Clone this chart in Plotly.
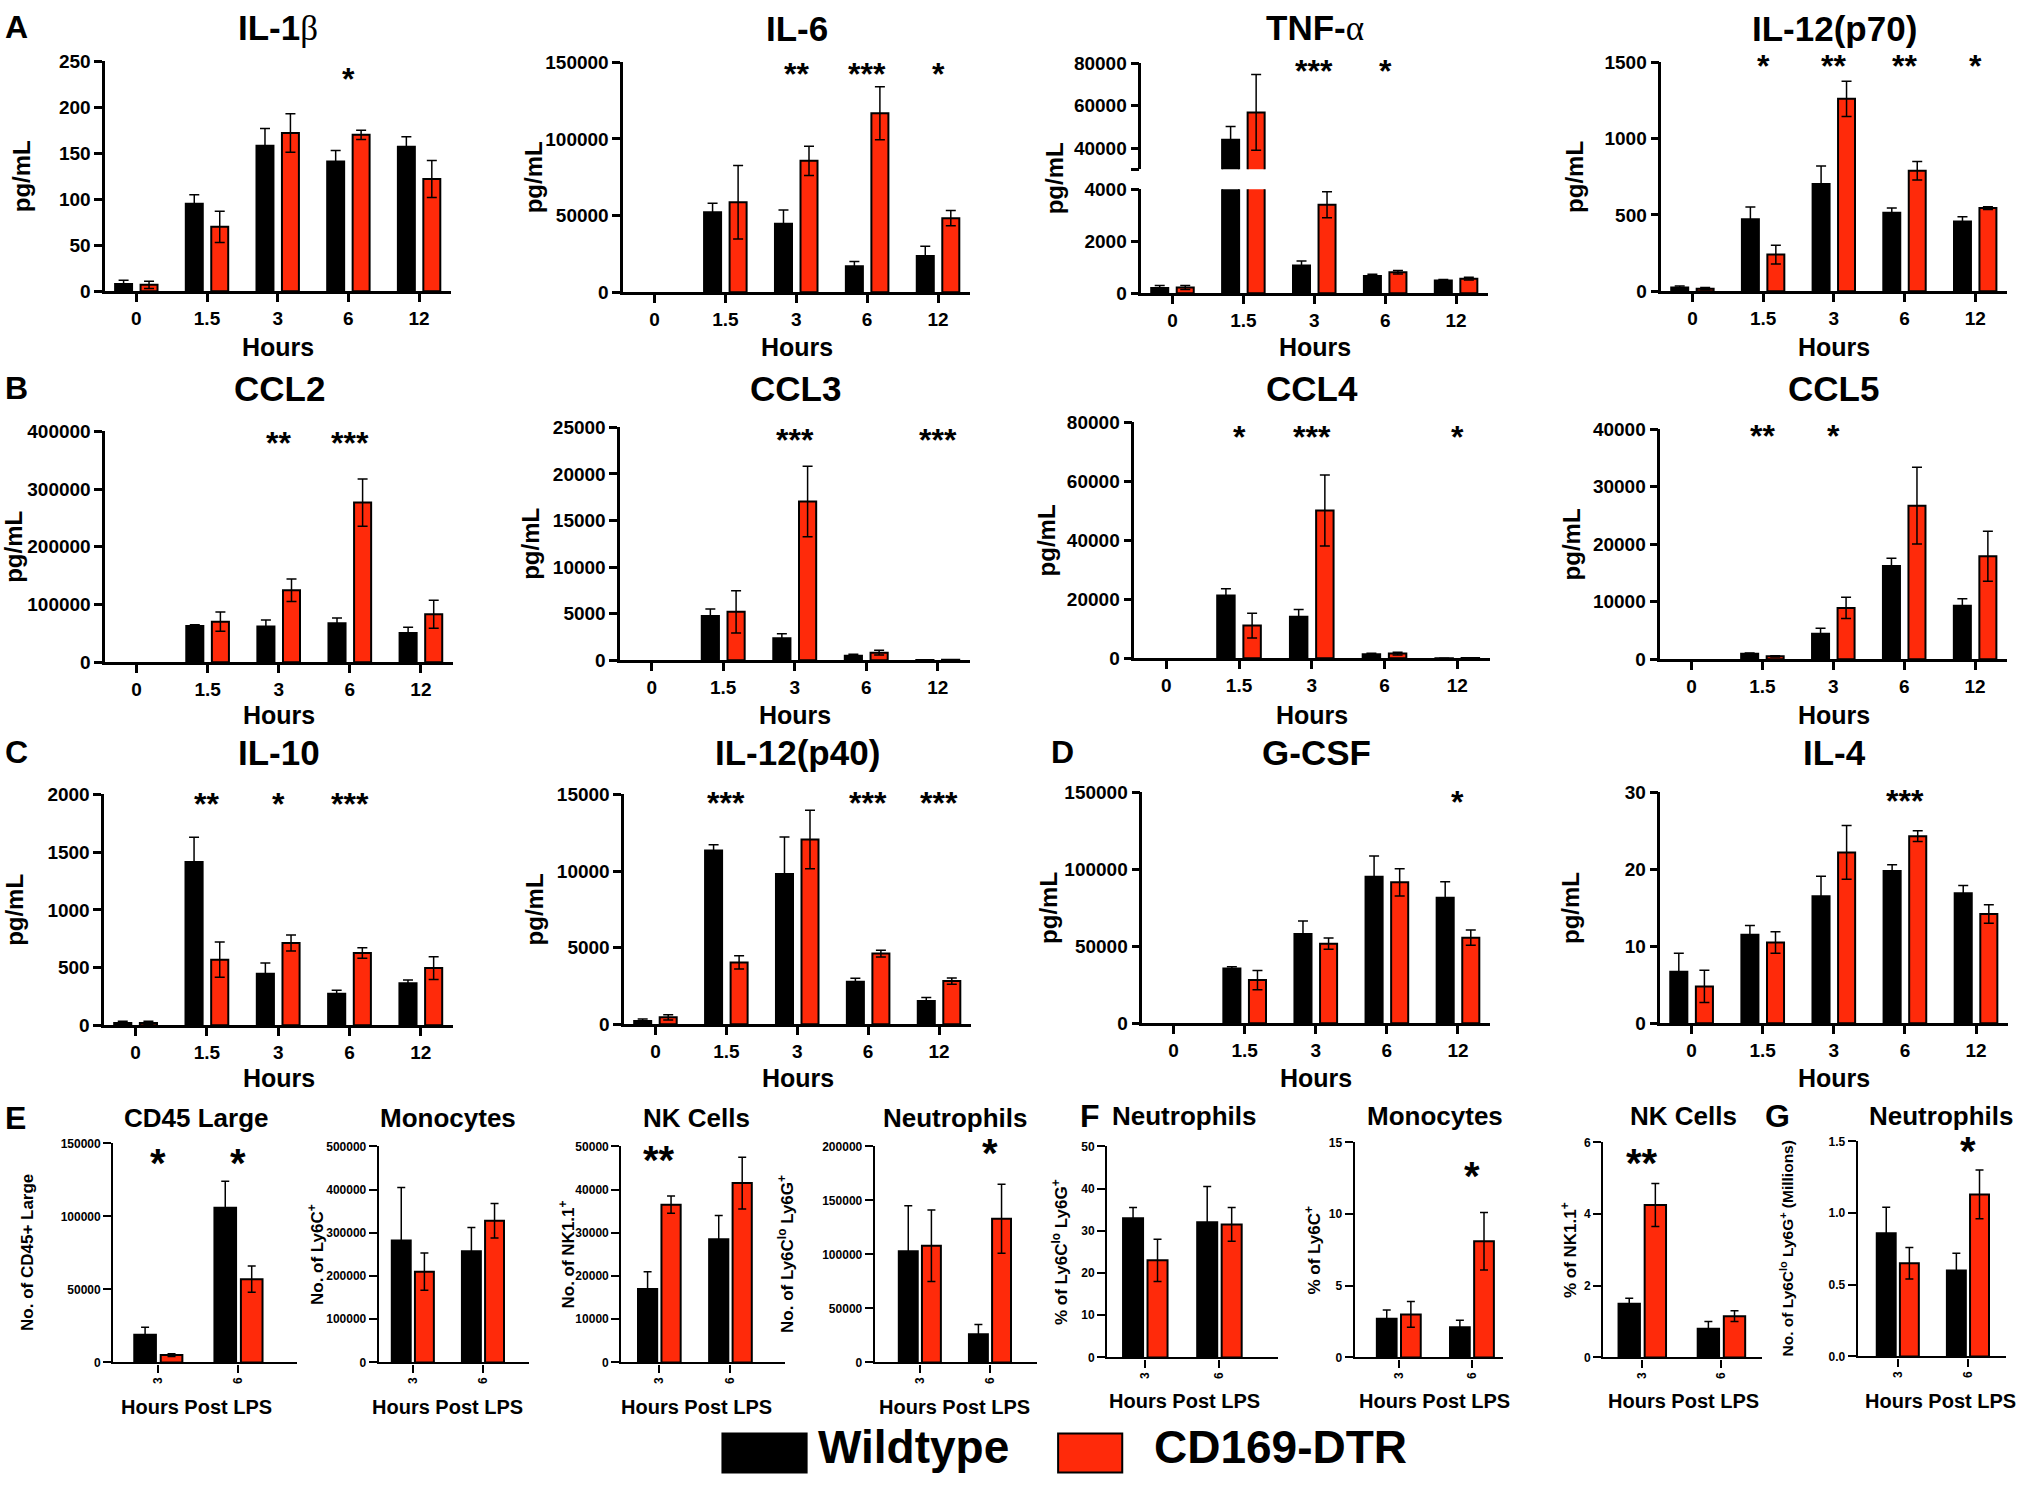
import plotly.graph_objects as go

W, H = 2019, 1485
FONT = "Liberation Sans"
RED = "#FF2A0A"

# ---------------- data ----------------
hours = ["0", "1.5", "3", "6", "12"]
lps_hours = ["3", "6"]

il1b_wt = [8, 95, 158, 141, 157]
il1b_wt_sem = [4, 10, 19, 12, 11]
il1b_dtr = [7, 70, 172, 170, 122]
il1b_dtr_sem = [4, 17, 21, 5, 20]
il1b_stars = ["", "", "", "*", ""]

il6_wt = [0, 52200, 44600, 17000, 23700]
il6_wt_sem = [0, 5800, 9100, 3000, 6300]
il6_dtr = [0, 58700, 85700, 116700, 48300]
il6_dtr_sem = [0, 23900, 9500, 17300, 5000]
il6_stars = ["", "", "**", "***", "*"]

tnf_wt = [200, 43900, 1070, 665, 486]
tnf_wt_sem = [100, 6300, 170, 65, 40]
tnf_dtr = [220, 56800, 3400, 805, 562]
tnf_dtr_sem = [80, 17900, 500, 65, 50]
tnf_stars = ["", "", "***", "*", ""]

p70_wt = [24, 471, 702, 514, 456]
p70_wt_sem = [11, 81, 118, 31, 32]
p70_dtr = [17, 240, 1260, 789, 545]
p70_dtr_sem = [7, 61, 116, 61, 9]
p70_stars = ["", "*", "**", "**", "*"]

ccl2_wt = [0, 62900, 61800, 67500, 50800]
ccl2_wt_sem = [0, 2300, 11500, 9300, 9800]
ccl2_dtr = [0, 70400, 124700, 276500, 83100]
ccl2_dtr_sem = [0, 16800, 19600, 41000, 24300]
ccl2_stars = ["", "", "**", "***", ""]

ccl3_wt = [0, 4750, 2360, 500, 20]
ccl3_wt_sem = [0, 750, 500, 140, 0]
ccl3_dtr = [0, 5200, 17040, 820, 60]
ccl3_dtr_sem = [0, 2260, 3780, 250, 10]
ccl3_stars = ["", "", "***", "", "***"]

ccl4_wt = [0, 21300, 14050, 1360, 50]
ccl4_wt_sem = [0, 2270, 2490, 340, 0]
ccl4_dtr = [0, 11100, 50090, 1590, 80]
ccl4_dtr_sem = [0, 4200, 12000, 450, 0]
ccl4_stars = ["", "*", "***", "", "*"]

ccl5_wt = [0, 985, 4460, 16230, 9330]
ccl5_wt_sem = [0, 115, 930, 1340, 1220]
ccl5_dtr = [0, 520, 8930, 26720, 17910]
ccl5_dtr_sem = [0, 120, 1850, 6670, 4350]
ccl5_stars = ["", "**", "*", "", ""]

il10_wt = [20, 1414, 447, 274, 364]
il10_wt_sem = [15, 214, 93, 29, 28]
il10_dtr = [20, 569, 713, 626, 496]
il10_dtr_sem = [15, 153, 69, 46, 99]
il10_stars = ["", "**", "*", "***", ""]

p40_wt = [217, 11330, 9810, 2780, 1520]
p40_wt_sem = [130, 390, 2410, 220, 240]
p40_dtr = [456, 4040, 12050, 4620, 2820]
p40_dtr_sem = [174, 430, 1910, 220, 200]
p40_stars = ["", "***", "", "***", "***"]

gcsf_wt = [0, 35700, 58000, 95240, 81600]
gcsf_wt_sem = [0, 1100, 8450, 13420, 10390]
gcsf_dtr = [0, 28100, 51730, 91560, 55630]
gcsf_dtr_sem = [0, 6300, 3670, 8870, 4980]
gcsf_stars = ["", "", "", "", "*"]

il4_wt = [6.7, 11.5, 16.5, 19.8, 16.9]
il4_wt_sem = [2.4, 1.2, 2.6, 0.8, 1.0]
il4_dtr = [4.8, 10.5, 22.2, 24.3, 14.2]
il4_dtr_sem = [2.1, 1.4, 3.5, 0.7, 1.2]
il4_stars = ["", "", "", "***", ""]

# flow cytometry panels
cd45_wt = [19000, 106000]
cd45_wt_sem = [5000, 18000]
cd45_dtr = [5000, 57000]
cd45_dtr_sem = [1000, 9000]
cd45_stars = ["*", "*"]

mono_n_wt = [282000, 257000]
mono_n_wt_sem = [123000, 55000]
mono_n_dtr = [210000, 328000]
mono_n_dtr_sem = [43000, 40000]
mono_n_stars = ["", ""]

nk_n_wt = [17000, 28500]
nk_n_wt_sem = [4000, 5500]
nk_n_dtr = [36500, 41500]
nk_n_dtr_sem = [2000, 6000]
nk_n_stars = ["**", ""]

neut_n_wt = [103000, 26000]
neut_n_wt_sem = [42000, 9000]
neut_n_dtr = [108000, 133000]
neut_n_dtr_sem = [33000, 32000]
neut_n_stars = ["", "*"]

neut_p_wt = [33, 32]
neut_p_wt_sem = [2.5, 8.5]
neut_p_dtr = [23, 31.5]
neut_p_dtr_sem = [5, 4]
neut_p_stars = ["", ""]

mono_p_wt = [2.7, 2.1]
mono_p_wt_sem = [0.6, 0.5]
mono_p_dtr = [3.0, 8.1]
mono_p_dtr_sem = [0.9, 2.0]
mono_p_stars = ["", "*"]

nk_p_wt = [1.5, 0.8]
nk_p_wt_sem = [0.15, 0.2]
nk_p_dtr = [4.25, 1.15]
nk_p_dtr_sem = [0.6, 0.15]
nk_p_stars = ["**", ""]

neut_m_wt = [0.86, 0.60]
neut_m_wt_sem = [0.18, 0.12]
neut_m_dtr = [0.65, 1.13]
neut_m_dtr_sem = [0.11, 0.17]
neut_m_stars = ["", "*"]

# y tick values
ticks_250 = [0, 50, 100, 150, 200, 250]
ticks_150k = [0, 50000, 100000, 150000]
ticks_1500 = [0, 500, 1000, 1500]
ticks_400k = [0, 100000, 200000, 300000, 400000]
ticks_25k = [0, 5000, 10000, 15000, 20000, 25000]
ticks_80k = [0, 20000, 40000, 60000, 80000]
ticks_40k = [0, 10000, 20000, 30000, 40000]
ticks_2000 = [0, 500, 1000, 1500, 2000]
ticks_15k = [0, 5000, 10000, 15000]
ticks_30 = [0, 10, 20, 30]
ticks_500k = [0, 100000, 200000, 300000, 400000, 500000]
ticks_50k = [0, 10000, 20000, 30000, 40000, 50000]
ticks_200k = [0, 50000, 100000, 150000, 200000]
ticks_50 = [0, 10, 20, 30, 40, 50]
ticks_15 = [0, 5, 10, 15]
ticks_6 = [0, 2, 4, 6]
ticks_1p5 = [0.0, 0.5, 1.0, 1.5]
tnf_low_ticks = [0, 2000, 4000]
tnf_high_ticks = [30000, 40000, 60000, 80000]
tnf_high_labels = ["", "40000", "60000", "80000"]

# ---------------- helpers ----------------
fig = go.Figure()
annotations = []
shapes = []
counter = [0]

# positions below are given in target-picture pixels; these map them onto the page
X_OFF, X_SCALE = 0.0, 0.998
Y_OFF, Y_SCALE = 9.8, 0.9857


def px(x):
    return ((x - X_OFF) / X_SCALE) / W


def py(y):
    return 1 - ((y - Y_OFF) / Y_SCALE) / H


def new_axes():
    counter[0] += 1
    n = counter[0]
    s = "" if n == 1 else str(n)
    return "x" + s, "y" + s, "xaxis" + s, "yaxis" + s


def bold(size):
    return dict(family=FONT, size=size, color="black", weight="bold")


def add_bars(xa, ya, cats, wt, wt_sem, dtr, dtr_sem, bw, off_wt, off_dtr, cap):
    for vals, sem, col, off in ((wt, wt_sem, "black", off_wt), (dtr, dtr_sem, RED, off_dtr)):
        shown = [v if v else None for v in vals]
        fig.add_trace(go.Bar(
            x=cats, y=shown, xaxis=xa, yaxis=ya, width=bw, offset=off,
            marker=dict(color=col, line=dict(color="black", width=2)),
            error_y=dict(type="data", array=sem, symmetric=True, color="black",
                         thickness=1.5, width=cap),
            showlegend=False, hoverinfo="skip"))


def y_axis_dict(xa, dom, rng, tickvals, ticktext, fs, lw):
    return dict(domain=dom, range=rng, anchor=xa, tickmode="array", tickvals=tickvals,
                ticktext=ticktext, showline=True, linecolor="black", linewidth=lw,
                ticks="outside", ticklen=8, tickwidth=lw, tickcolor="black",
                tickfont=bold(fs), showgrid=False, zeroline=False, fixedrange=True)


def x_axis_dict(ya, dom, rng, cats, fs, lw, angle=0, show=True):
    return dict(domain=dom, range=rng, anchor=ya, type="category",
                categoryorder="array", categoryarray=cats,
                showline=show, linecolor="black", linewidth=lw,
                ticks="outside" if show else "", ticklen=8, tickwidth=lw, tickcolor="black",
                showticklabels=show, tickfont=bold(fs), tickangle=angle,
                showgrid=False, zeroline=False, fixedrange=True)


def text(x, y, s, size, angle=0, xanchor="center", yanchor="middle", xref="paper"):
    annotations.append(dict(x=x, y=y, xref=xref, yref="paper", text=s, showarrow=False,
                            textangle=angle, xanchor=xanchor, yanchor=yanchor,
                            font=dict(family=FONT, size=size, color="black", weight="bold")))


layout = {}


def panel(box, cats, series, yticks, title, ylabel_x, ylabel, xlabel, stars, kind,
          yticklabels=None, star_y=None, title_y=None, xlabel_y=None, broken=None, labfs=None,
          cpos=None, cx=None):
    x0, x1, yt, yb = box
    if kind == "time":
        xr = [-0.44, 4.45]
        bw, ow, od, cap = 0.24, -0.30, 0.06, 5
        tfs, titlefs, lfs, xlfs, starfs, lw, angle = 19, 35, 24, 25, 32, 2.5, 0
        star_shift = 4
        if cx is None:
            cx = (x0 + x1) / 2
    else:
        c3, c6 = cpos
        sp = c6 - c3
        xr = [(x0 - c3) / sp, 1 + (x1 - c6) / sp]
        bw, ow, od, cap = 0.27, -0.30, 0.03, 4
        tfs, titlefs, lfs, xlfs, starfs, lw, angle = 12, 26, 17, 20, 40, 2.2, -90
        star_shift = 8
    if labfs is not None:
        lfs = labfs
    wt, wt_sem, dtr, dtr_sem = series
    xdom = [px(x0), px(x1)]
    if broken is None:
        xa, ya, xk, yk = new_axes()
        add_bars(xa, ya, cats, wt, wt_sem, dtr, dtr_sem, bw, ow, od, cap)
        layout[xk] = x_axis_dict(ya, xdom, xr, cats, tfs, lw, angle)
        lbl = yticklabels if yticklabels is not None else [str(v) for v in yticks]
        layout[yk] = y_axis_dict(xa, [py(yb), py(yt)], [yticks[0], yticks[-1]], yticks, lbl, tfs, lw)
        xref_axis = xa
    else:
        (low_ticks, high_ticks, high_labels, y_break_hi, y_break_lo) = broken
        xa, ya, xk, yk = new_axes()
        add_bars(xa, ya, cats, wt, wt_sem, dtr, dtr_sem, bw, ow, od, cap)
        layout[xk] = x_axis_dict(ya, xdom, xr, cats, tfs, lw, angle)
        layout[yk] = y_axis_dict(xa, [py(yb), py(y_break_lo)], [low_ticks[0], low_ticks[-1]],
                                 low_ticks, [str(v) for v in low_ticks], tfs, lw)
        xref_axis = xa
        xa2, ya2, xk2, yk2 = new_axes()
        add_bars(xa2, ya2, cats, wt, wt_sem, dtr, dtr_sem, bw, ow, od, cap)
        layout[xk2] = x_axis_dict(ya2, xdom, xr, cats, tfs, lw, angle, show=False)
        layout[xk2]["visible"] = False
        layout[yk2] = y_axis_dict(xa2, [py(y_break_hi), py(yt)], [high_ticks[0], high_ticks[-1]],
                                  high_ticks, high_labels, tfs, lw)
    text(px(cx), py(title_y), title, titlefs)
    text(px(ylabel_x), py((yt + yb) / 2), ylabel, lfs, angle=-90)
    text(px(cx), py(xlabel_y), xlabel, xlfs)
    for i, s in enumerate(stars):
        if s:
            text(i, py(star_y + star_shift), s, starfs, xref=xref_axis)


beta = "IL-1<span style=\"font-family:'Liberation Serif';font-weight:normal\">β</span>"
alpha = "TNF-<span style=\"font-family:'Liberation Serif';font-weight:normal\">α</span>"

# ---------------- row 1 ----------------
r1 = dict(title_y=28, xlabel_y=347)
panel((105, 450, 61, 291), hours, (il1b_wt, il1b_wt_sem, il1b_dtr, il1b_dtr_sem), ticks_250,
      beta, 21, "pg/mL", "Hours", il1b_stars, "time", star_y=75, **r1)
panel((622, 968, 62, 292), hours, (il6_wt, il6_wt_sem, il6_dtr, il6_dtr_sem), ticks_150k,
      "IL-6", 532, "pg/mL", "Hours", il6_stars, "time", star_y=70, **r1)
panel((1139, 1485, 63, 293), hours, (tnf_wt, tnf_wt_sem, tnf_dtr, tnf_dtr_sem), None,
      alpha, 1052, "pg/mL", "Hours", tnf_stars, "time", star_y=67,
      broken=(tnf_low_ticks, tnf_high_ticks, tnf_high_labels, 169, 189), **r1)
panel((1658, 2003, 62, 291), hours, (p70_wt, p70_wt_sem, p70_dtr, p70_dtr_sem), ticks_1500,
      "IL-12(p70)", 1572, "pg/mL", "Hours", p70_stars, "time", star_y=62, **r1)

# ---------------- row 2 ----------------
r2 = dict(title_y=388, xlabel_y=715)
panel((105, 452, 431, 662), hours, (ccl2_wt, ccl2_wt_sem, ccl2_dtr, ccl2_dtr_sem), ticks_400k,
      "CCL2", 14, "pg/mL", "Hours", ccl2_stars, "time", star_y=439, **r2)
panel((619, 968, 427, 660), hours, (ccl3_wt, ccl3_wt_sem, ccl3_dtr, ccl3_dtr_sem), ticks_25k,
      "CCL3", 530, "pg/mL", "Hours", ccl3_stars, "time", star_y=436, **r2)
panel((1132, 1487, 422, 658), hours, (ccl4_wt, ccl4_wt_sem, ccl4_dtr, ccl4_dtr_sem), ticks_80k,
      "CCL4", 1044, "pg/mL", "Hours", ccl4_stars, "time", star_y=433, **r2)
panel((1657, 2003, 429, 659), hours, (ccl5_wt, ccl5_wt_sem, ccl5_dtr, ccl5_dtr_sem), ticks_40k,
      "CCL5", 1568, "pg/mL", "Hours", ccl5_stars, "time", star_y=432, **r2)

# ---------------- row 3 ----------------
r3 = dict(title_y=752, xlabel_y=1078)
panel((104, 452, 794, 1025), hours, (il10_wt, il10_wt_sem, il10_dtr, il10_dtr_sem), ticks_2000,
      "IL-10", 15, "pg/mL", "Hours", il10_stars, "time", star_y=800, **r3)
panel((623, 969, 794, 1024), hours, (p40_wt, p40_wt_sem, p40_dtr, p40_dtr_sem), ticks_15k,
      "IL-12(p40)", 533, "pg/mL", "Hours", p40_stars, "time", star_y=799, **r3)
panel((1140, 1487, 792, 1023), hours, (gcsf_wt, gcsf_wt_sem, gcsf_dtr, gcsf_dtr_sem), ticks_150k,
      "G-CSF", 1047, "pg/mL", "Hours", gcsf_stars, "time", star_y=798, **r3)
panel((1657, 2004, 792, 1023), hours, (il4_wt, il4_wt_sem, il4_dtr, il4_dtr_sem), ticks_30,
      "IL-4", 1568, "pg/mL", "Hours", il4_stars, "time", star_y=797, **r3)

# ---------------- bottom row ----------------
rE = dict(title_y=1118, xlabel_y=1407)
rF = dict(title_y=1116, xlabel_y=1401)
panel((113, 296, 1143, 1362), lps_hours, (cd45_wt, cd45_wt_sem, cd45_dtr, cd45_dtr_sem), ticks_150k,
      "CD45 Large", 28, "No. of CD45+ Large", "Hours Post LPS", cd45_stars, "flow", star_y=1155,
      cpos=(158, 238), cx=196, **rE)
panel((378, 528, 1146, 1362), lps_hours, (mono_n_wt, mono_n_wt_sem, mono_n_dtr, mono_n_dtr_sem), ticks_500k,
      "Monocytes", 316, "No. of Ly6C<sup>+</sup>", "Hours Post LPS", mono_n_stars, "flow", star_y=1155,
      cpos=(412, 482), cx=447, **rE)
panel((620, 783, 1146, 1362), lps_hours, (nk_n_wt, nk_n_wt_sem, nk_n_dtr, nk_n_dtr_sem), ticks_50k,
      "NK Cells", 566, "No. of NK1.1<sup>+</sup>", "Hours Post LPS", nk_n_stars, "flow", star_y=1152,
      cpos=(658, 729), cx=695, **rE)
panel((873, 1035, 1146, 1362), lps_hours, (neut_n_wt, neut_n_wt_sem, neut_n_dtr, neut_n_dtr_sem), ticks_200k,
      "Neutrophils", 785, "No. of Ly6C<sup>lo</sup> Ly6G<sup>+</sup>", "Hours Post LPS", neut_n_stars, "flow",
      star_y=1145, cpos=(918, 988), cx=953, **rE)
panel((1105, 1275, 1146, 1357), lps_hours, (neut_p_wt, neut_p_wt_sem, neut_p_dtr, neut_p_dtr_sem), ticks_50,
      "Neutrophils", 1058, "% of Ly6C<sup>lo</sup> Ly6G<sup>+</sup>", "Hours Post LPS", neut_p_stars, "flow",
      star_y=1155, cpos=(1143, 1217), cx=1182, **rF)
panel((1352, 1500, 1142, 1357), lps_hours, (mono_p_wt, mono_p_wt_sem, mono_p_dtr, mono_p_dtr_sem), ticks_15,
      "Monocytes", 1310, "% of Ly6C<sup>+</sup>", "Hours Post LPS", mono_p_stars, "flow", star_y=1168,
      cpos=(1396, 1469), cx=1432, **rF)
panel((1600, 1758, 1142, 1357), lps_hours, (nk_p_wt, nk_p_wt_sem, nk_p_dtr, nk_p_dtr_sem), ticks_6,
      "NK Cells", 1566, "% of NK1.1<sup>+</sup>", "Hours Post LPS", nk_p_stars, "flow", star_y=1155,
      cpos=(1639, 1718), cx=1680, **rF)
panel((1854, 2002, 1141, 1356), lps_hours, (neut_m_wt, neut_m_wt_sem, neut_m_dtr, neut_m_dtr_sem), ticks_1p5,
      "Neutrophils", 1783, "No. of Ly6C<sup>lo</sup> Ly6G<sup>+</sup> (Millions)", "Hours Post LPS",
      neut_m_stars, "flow", yticklabels=[f"{v:.1f}" for v in ticks_1p5], star_y=1143, labfs=15.5,
      cpos=(1894, 1964), cx=1937, **rF)

# panel letters
for letter, lx, ly in (("A", 16, 27), ("B", 16, 388), ("C", 16, 752), ("D", 1060, 752),
                       ("E", 15, 1118), ("F", 1088, 1116), ("G", 1774, 1116)):
    text(px(lx), py(ly), letter, 32)

# legend
shapes.append(dict(type="rect", xref="paper", yref="paper", x0=px(721), x1=px(805),
                   y0=py(1472), y1=py(1433), fillcolor="black", line=dict(color="black", width=2)))
shapes.append(dict(type="rect", xref="paper", yref="paper", x0=px(1056), x1=px(1120),
                   y0=py(1472), y1=py(1433), fillcolor=RED, line=dict(color="black", width=2)))
text(px(814), py(1447), "Wildtype", 46, xanchor="left")
text(px(1150), py(1447), "CD169-DTR", 46, xanchor="left")

fig.update_layout(
    width=W, height=H, margin=dict(l=0, r=0, t=0, b=0),
    paper_bgcolor="white", plot_bgcolor="white",
    barmode="overlay", showlegend=False,
    annotations=annotations, shapes=shapes,
    font=dict(family=FONT, color="black"),
    **layout)

# pin the figure to the page's top-left corner so the page is exactly the figure
pin = ("document.documentElement.style.overflow='hidden';"
       "document.body.style.margin='0';document.body.style.overflow='hidden';"
       "var d=document.getElementById('{plot_id}');"
       "d.style.position='absolute';d.style.left='0px';d.style.top='0px';")

fig.write_html("out.html", config={"displayModeBar": False}, post_script=pin)
